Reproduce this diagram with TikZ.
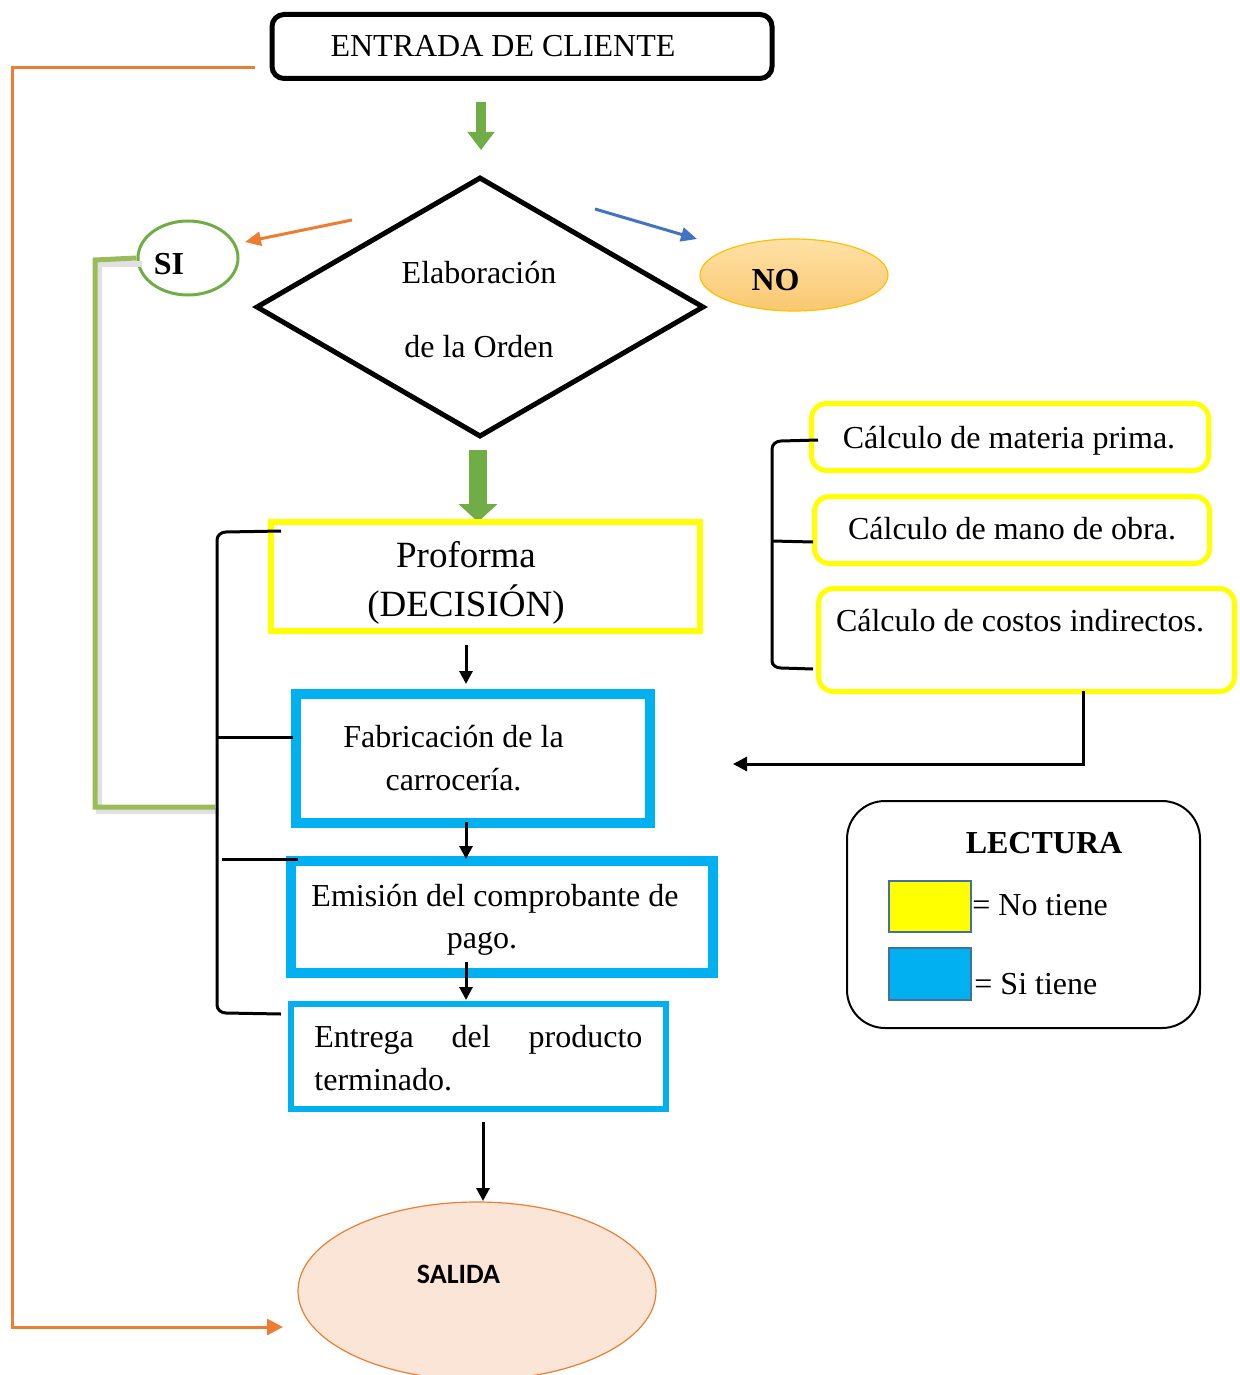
\documentclass[tikz,border=0pt]{standalone}
\usepackage{fontspec}
\setmainfont{Liberation Serif}
\newfontfamily\carlito{Carlito}
\usetikzlibrary{shapes.geometric,arrows.meta,calc}
\definecolor{cyanb}{HTML}{00B0F0}
\definecolor{yel}{HTML}{FFFF00}
\definecolor{grn}{HTML}{70AD47}
\definecolor{grnb}{HTML}{9BBB59}
\definecolor{orng}{HTML}{ED7D31}
\definecolor{blu}{HTML}{4472C4}
\definecolor{legb}{HTML}{41719C}
\definecolor{salfill}{HTML}{FBE5D6}
\definecolor{nob}{HTML}{FFC000}
\definecolor{notop}{HTML}{FFE1A6}
\definecolor{nobot}{HTML}{F9C870}
\begin{document}
\begin{tikzpicture}[x=0.5pt,y=-0.5pt,
  txt/.style={inner sep=0pt,anchor=base,font=\fontsize{16}{20}\selectfont},
  txtl/.style={txt,anchor=base west},
  btxt/.style={txt,font=\fontsize{16}{20}\selectfont\bfseries},
  bigtxt/.style={txt,font=\fontsize{18.5}{24}\selectfont},
  blk/.style={draw=black,line width=1.5pt,-{Triangle[length=6.5pt,width=6.5pt]}},
  gblock/.style={draw=grn,line width=#1},
  bluebox/.style={draw=cyanb,inner sep=0pt},
  ybox/.style={draw=yel,line width=2.5pt,rounded corners=7.5pt,inner sep=0pt},
  brk/.style={draw=black,line width=1.5pt},
]
\useasboundingbox (0,0) rectangle (1240,1375);

% ---- orange outer loop
\coordinate (o1) at (255,68);
\coordinate (o2) at (283,1327);
\draw[orng,line width=1.5pt,-{Triangle[length=8pt,width=8pt]}] (o1) -| (12,1327) -- (o2);

% ---- entrada
\node[draw,line width=2.5pt,rounded corners=6pt,minimum width=250pt,minimum height=32pt,inner sep=0pt] (entrada) at (522,46.5) {};
\node[txt] (entradaT) at (503,57) {ENTRADA DE CLIENTE};

% green arrow 1
\coordinate (g1a) at (481,102);
\coordinate (g1b) at (481,150);
\draw[grn,line width=5pt,-{Triangle[length=9pt,width=13pt]}] (g1a) -- (g1b);

% ---- diamond
\node[diamond,draw,line width=2.5pt,minimum width=224pt,minimum height=130pt,inner sep=0pt] (dia) at (480,307) {};
\node[txt] (elab) at (479,284) {Elaboración};
\node[txt] (dela) at (479,357) {de la Orden};

% ---- SI
\node[ellipse,draw=grn,line width=1.5pt,minimum width=50pt,minimum height=37pt,inner sep=0pt] (si) at (188,258) {};
\node[btxt] (siT) at (169,274) {SI};
\coordinate (oa1) at (352,220);
\coordinate (oa2) at (245,242);
\draw[orng,line width=1.5pt,-{Triangle[length=8pt,width=7pt]}] (oa1) -- (oa2);

% ---- NO
\node[ellipse,draw=nob,line width=0.6pt,top color=notop,bottom color=nobot,minimum width=94pt,minimum height=36pt,inner sep=0pt] (no) at (794,275) {};
\node[btxt] (noT) at (775.5,290) {NO};
\coordinate (ba1) at (595,209);
\coordinate (ba2) at (697,239);
\draw[blu,line width=1.5pt,-{Triangle[length=8pt,width=7pt]}] (ba1) -- (ba2);

% green arrow 2
\coordinate (g2a) at (478,450);
\coordinate (g2b) at (478,522);
\draw[grn,line width=9pt,-{Triangle[length=9pt,width=19pt]}] (g2a) -- (g2b);

% ---- green SI bracket with shadow
\draw[black!12,line width=3pt] (142,264) -- (99,264) -- (99,811) -- (219,811);
\draw[grnb,line width=2.5pt] (si.west) -- (95,260) -- (95,807) -- (215,807);

% ---- Proforma
\node[draw=yel,line width=3pt,minimum width=214.5pt,minimum height=54.5pt,inner sep=0pt] (prof) at (485.5,576.5) {};
\node[bigtxt] (profT1) at (466,567) {Proforma};
\node[bigtxt] (profT2) at (466,616) {(DECISIÓN)};

% ---- Fabricacion
\node[bluebox,line width=5pt,minimum width=177pt,minimum height=64.5pt] (fab) at (473,758.5) {};
\node[txt] (fabT1) at (453.5,747) {Fabricación de la};
\node[txt] (fabT2) at (453.5,790) {carrocería.};

% ---- Emision
\node[bluebox,line width=5pt,minimum width=211pt,minimum height=56pt] (emi) at (502,917) {};
\node[txt] (emiT1) at (495,906) {Emisión del comprobante de};
\node[txt] (emiT2) at (482,948) {pago.};

% ---- Entrega
\node[bluebox,line width=3pt,minimum width=187.5pt,minimum height=52.5pt] (ent) at (478.5,1056.5) {};
\node[txtl] (entT1) at (314,1047) {\hbox to 164pt{Entrega\hfill del\hfill producto}};
\node[txtl] (entT2) at (314,1090) {terminado.};

% black arrows in the chain
\coordinate (k1a) at (466,645); \coordinate (k1b) at (466,684);
\coordinate (k2a) at (466,822); \coordinate (k2b) at (466,859);
\coordinate (k3a) at (466,962); \coordinate (k3b) at (466,1000);
\coordinate (k4a) at (483,1122); \coordinate (k4b) at (483,1201);
\draw[blk] (k1a) -- (k1b);
\draw[blk] (k2a) -- (k2b);
\draw[blk] (k3a) -- (k3b);
\draw[blk] (k4a) -- (k4b);

% ---- left black bracket
\draw[brk] (281,531) -- (226,532) to[out=180,in=90] (217,540) -- (217,1005) to[out=-90,in=180] (226,1013) -- (281,1014);
\draw[brk] (217,737) -- (293,737);
\draw[brk] (222,859) -- (298,859);

% ---- SALIDA
\node[ellipse,draw=orng,line width=0.6pt,fill=salfill,minimum width=179pt,minimum height=89pt,inner sep=0pt] (sal) at (477,1291) {};
\node[txt,font=\carlito\fontsize{14}{17}\selectfont\bfseries] (salT) at (458.5,1283) {SALIDA};

% ---- right boxes
\node[ybox,minimum width=198.5pt,minimum height=33.5pt] (box1) at (1010,437) {};
\node[txt] (box1T) at (1009,448) {Cálculo de materia prima.};
\node[ybox,minimum width=197.5pt,minimum height=33.5pt] (box2) at (1012,530) {};
\node[txt] (box2T) at (1012,539) {Cálculo de mano de obra.};
\node[ybox,minimum width=208pt,minimum height=51.5pt] (box3) at (1026.5,640) {};
\node[txt] (box3T) at (1020,631) {Cálculo de costos indirectos.};

% right bracket
\draw[brk] (818,440) -- (781,441) to[out=180,in=90] (772,449) -- (772,661) to[out=-90,in=180] (781,668) -- (813,669);
\draw[brk] (772,541) -- (813,542);

% arrow from box3 to the chain
\coordinate (r1) at (1083,691);
\coordinate (r2) at (733,764);
\draw[line width=1.5pt,-{Triangle[length=7pt,width=7pt]}] (r1) |- (r2);

% ---- legend
\node[draw,line width=1pt,rounded corners=19pt,minimum width=176.5pt,minimum height=113.5pt,inner sep=0pt] (leg) at (1023.5,914.5) {};
\node[btxt] (legT) at (1044,853) {LECTURA};
\node[draw=legb,line width=1pt,fill=yel,minimum width=41pt,minimum height=25.5pt,inner sep=0pt] (legY) at (930,906.5) {};
\node[txtl] (legYT) at (972,915) {= No tiene};
\node[draw=legb,line width=1pt,fill=cyanb,minimum width=41pt,minimum height=26pt,inner sep=0pt] (legC) at (930,974) {};
\node[txtl] (legCT) at (974,994) {= Si tiene};
\end{tikzpicture}
\end{document}
